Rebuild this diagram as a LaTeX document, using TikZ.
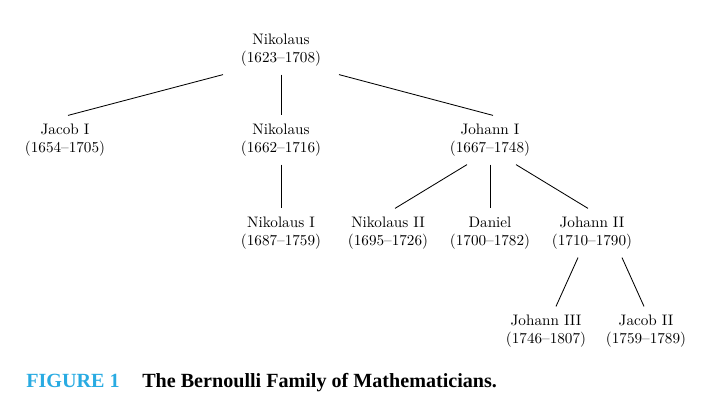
\documentclass[tikz,border=0pt]{standalone}
\usepackage{fontspec}
\usepackage{xcolor}
\newfontfamily\capfont{Liberation Serif}
\definecolor{figcyan}{RGB}{41, 171, 226}
\tikzset{
	person/.style={align=center, inner sep=0pt, outer ysep=6pt,
		font=\fontsize{10.8}{12.8}\selectfont},
	link/.style={draw=black, line width=0.6pt}
}

\begin{document}
\begin{tikzpicture}[x=0.025cm, y=-0.025cm]
			\useasboundingbox (0, 0) rectangle (722, 414);
			
			% generations
			\node[person] (nik)   at (281, 50)  {Nikolaus\\(1623--1708)};
			\node[person] (jac)   at (65, 140)  {Jacob I\\(1654--1705)};
			\node[person] (nikb)  at (281, 140) {Nikolaus\\(1662--1716)};
			\node[person] (joh)   at (490, 140) {Johann I\\(1667--1748)};
			\node[person] (niki)  at (281, 233) {Nikolaus I\\(1687--1759)};
			\node[person] (nikii) at (388, 233) {Nikolaus II\\(1695--1726)};
			\node[person] (dan)   at (490, 233) {Daniel\\(1700--1782)};
			\node[person] (johii) at (592, 233) {Johann II\\(1710--1790)};
			\node[person] (johiii) at (546, 331) {Johann III\\(1746--1807)};
			\node[person] (jacii) at (646, 331) {Jacob II\\(1759--1789)};
			
			\draw[link] ([shift={(-58,0)}]nik.south) -- ([shift={(3,0)}]jac.north);
			\draw[link] (nik.south) -- (nikb.north);
			\draw[link] ([shift={(58,0)}]nik.south) -- ([shift={(3,0)}]joh.north);
			\draw[link] (nikb.south) -- (niki.north);
			\draw[link] ([shift={(-23,0)}]joh.south) -- ([shift={(7,0)}]nikii.north);
			\draw[link] (joh.south) -- (dan.north);
			\draw[link] ([shift={(26,0)}]joh.south) -- ([shift={(-4,0)}]johii.north);
			\draw[link] ([shift={(-14,0)}]johii.south) -- ([shift={(10,0)}]johiii.north);
			\draw[link] ([shift={(30,0)}]johii.south) -- ([shift={(-2,0)}]jacii.north);
			
			% caption
			\node[anchor=base west, inner sep=0pt, text=figcyan,
				font=\capfont\bfseries\fontsize{14.3}{16}\selectfont] (fignum) at (26, 387) {FIGURE 1};
			\node[anchor=base west, inner sep=0pt,
				font=\capfont\bfseries\fontsize{14.3}{16}\selectfont] (figtitle) at (142, 387) {The Bernoulli Family of Mathematicians.};
			
		\end{tikzpicture}
\end{document}
